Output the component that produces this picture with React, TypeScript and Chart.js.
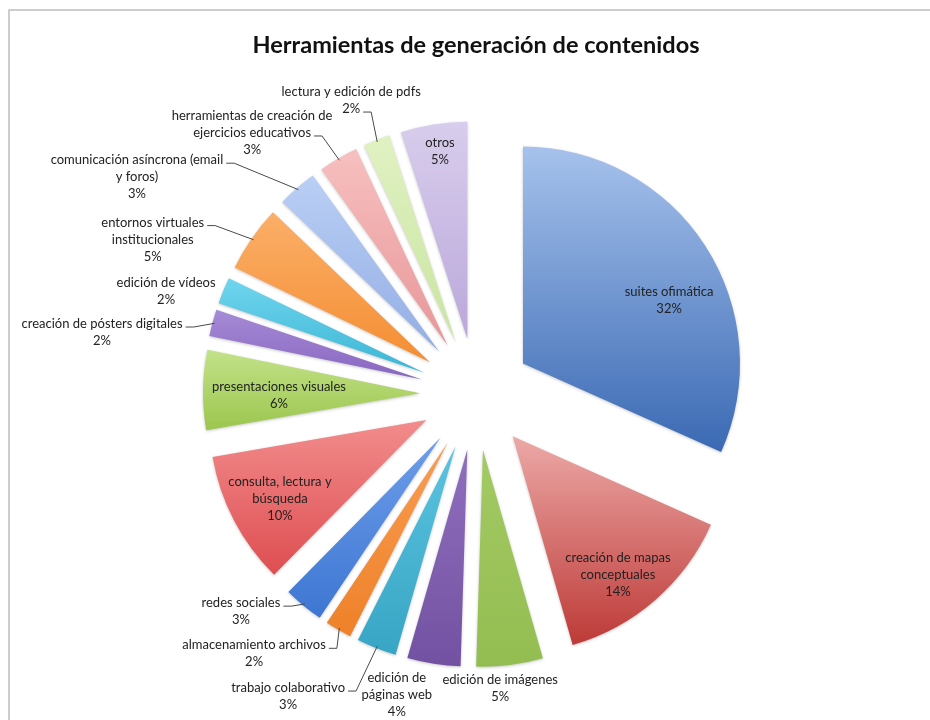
import React, { useEffect, useRef } from "react";
import { Chart, registerables } from "chart.js";

Chart.register(...registerables);

const TITLE = "Herramientas de generación de contenidos";

const CATEGORIES = [
  "suites ofimática",
  "creación de mapas\nconceptuales",
  "edición de imágenes",
  "edición de\npáginas web",
  "trabajo colaborativo",
  "almacenamiento archivos",
  "redes sociales",
  "consulta, lectura y\nbúsqueda",
  "presentaciones visuales",
  "creación de pósters digitales",
  "edición de vídeos",
  "entornos virtuales\ninstitucionales",
  "comunicación asíncrona (email\ny foros)",
  "herramientas de creación de\nejercicios educativos",
  "lectura y edición de pdfs",
  "otros",
];

const PERCENTAGES = [32, 14, 5, 4, 3, 2, 3, 10, 6, 2, 2, 5, 3, 3, 2, 5];

const COLORS_TOP = [
  "#A6C2EC", "#ECA9A7", "#A4CA64", "#8F70BD", "#5BC4E0", "#F99D52",
  "#6E9EE9", "#F28C8C", "#C3E289", "#A58BD6", "#70D5EE", "#FBAF68",
  "#BACFF4", "#F7C0C0", "#E0F1C2", "#D8CDEC",
];
const COLORS_BOTTOM = [
  "#3A69B3", "#BD3A37", "#93BD51", "#7351A2", "#37A5C4", "#EE8129",
  "#3D76D2", "#DE4E51", "#9CC64E", "#8966C0", "#3BB6D5", "#F48E33",
  "#93AEE5", "#E89698", "#C9E5A0", "#BAA8DA",
];

// label placement: angle shift from slice mid-angle (deg) and distance from slice tip (x radius)
const LABEL_LAYOUT = [
  { da: 9.7, r: 0.733 },
  { da: 3.8, r: 0.802 },
  { da: 3.0, r: 1.104 },
  { da: 7.1, r: 1.178 },
  { da: 12.4, r: 1.388, leader: 0 },
  { da: 12.2, r: 1.321, leader: 0 },
  { da: 9.7, r: 1.221, leader: 0 },
  { da: -0.5, r: 0.765 },
  { da: -1.9, r: 0.65 },
  { da: -6.8, r: 1.49, leader: 0 },
  { da: -4.8, r: 1.247 },
  { da: -10.9, r: 1.397, leader: 0 },
  { da: -19.0, r: 1.609, leader: 0 },
  { da: -12.3, r: 1.332, leader: 1 },
  { da: -2.0, r: 1.212, leader: 1 },
  { da: 0.6, r: 0.872 },
];

const RADIUS = 217;
const EXPLODE = 56;
const LABEL_FONT = "13px Lato";
const LINE_H = 17;

function sliceGradient(c: any) {
  const i = c.dataIndex;
  const chart = c.chart;
  const area = chart.chartArea;
  if (!area) return COLORS_TOP[i];
  const vals: number[] = c.dataset.data;
  const total = vals.reduce((a, b) => a + b, 0);
  let acc = 0;
  for (let j = 0; j < i; j++) acc += vals[j];
  const s = -Math.PI / 2 + (acc / total) * Math.PI * 2;
  const e = s + (vals[i] / total) * Math.PI * 2;
  const m = (s + e) / 2;
  const cy = (area.top + area.bottom) / 2 + Math.sin(m) * EXPLODE;
  let minY = cy;
  let maxY = cy;
  for (let t = 0; t <= 24; t++) {
    const a = s + ((e - s) * t) / 24;
    const yy = cy + Math.sin(a) * RADIUS;
    if (yy < minY) minY = yy;
    if (yy > maxY) maxY = yy;
  }
  const g = chart.ctx.createLinearGradient(0, minY, 0, maxY + 0.01);
  g.addColorStop(0, COLORS_TOP[i]);
  g.addColorStop(1, COLORS_BOTTOM[i]);
  return g;
}

const framePlugin = {
  id: "frame",
  beforeDraw(chart: any) {
    const ctx = chart.ctx;
    ctx.save();
    ctx.fillStyle = "#ffffff";
    ctx.fillRect(0, 0, chart.width, chart.height);
    ctx.strokeStyle = "#bdbdbd";
    ctx.lineWidth = 1.5;
    ctx.beginPath();
    ctx.moveTo(9, chart.height);
    ctx.lineTo(9, 10);
    ctx.lineTo(chart.width, 10);
    ctx.stroke();
    ctx.restore();
  },
};

const explodePlugin = {
  id: "explodeLabels",
  afterDatasetsUpdate(chart: any) {
    const meta = chart.getDatasetMeta(0);
    meta.data.forEach((el: any) => {
      const mid = (el.startAngle + el.endAngle) / 2;
      el.x += Math.cos(mid) * EXPLODE;
      el.y += Math.sin(mid) * EXPLODE;
    });
  },
  beforeDatasetsDraw(chart: any) {
    const ctx = chart.ctx;
    ctx.save();
    ctx.shadowColor = "rgba(0,0,0,0.22)";
    ctx.shadowBlur = 3;
    ctx.shadowOffsetX = 0;
    ctx.shadowOffsetY = 1;
  },
  afterDatasetsDraw(chart: any) {
    const ctx = chart.ctx;
    ctx.restore();
    const meta = chart.getDatasetMeta(0);
    const data = chart.data.datasets[0].data;
    ctx.save();
    ctx.font = LABEL_FONT;
    ctx.textAlign = "center";
    ctx.textBaseline = "middle";
    meta.data.forEach((el: any, i: number) => {
      const { x, y, startAngle, endAngle, outerRadius } = el;
      const mid = (startAngle + endAngle) / 2;
      const lay: any = LABEL_LAYOUT[i];
      const a = mid + (lay.da * Math.PI) / 180;
      const cx = x + Math.cos(a) * lay.r * outerRadius;
      const cy = y + Math.sin(a) * lay.r * outerRadius;
      const lines = [...String(chart.data.labels[i]).split("\n"), `${data[i]}%`];
      const top = cy - ((lines.length - 1) * LINE_H) / 2;
      ctx.fillStyle = "#222222";
      lines.forEach((t, k) => ctx.fillText(t, cx, top + k * LINE_H));
      if (lay.leader !== undefined) {
        const k = lay.leader;
        const ly = top + k * LINE_H + 3;
        const w = ctx.measureText(lines[k]).width;
        const sx = cx + w / 2 + 3;
        const ex = x + Math.cos(mid) * outerRadius * 0.99;
        const ey = y + Math.sin(mid) * outerRadius * 0.99;
        ctx.strokeStyle = "#4a4a4a";
        ctx.lineWidth = 1;
        ctx.beginPath();
        ctx.moveTo(sx, ly);
        ctx.lineTo(sx + 8, ly);
        ctx.lineTo(ex, ey);
        ctx.stroke();
      }
    });
    ctx.restore();
  },
};

export default function App() {
  const ref = useRef<HTMLCanvasElement>(null);
  useEffect(() => {
    if (!ref.current) return;
    const chart = new Chart(ref.current, {
      type: "pie",
      data: {
        labels: CATEGORIES,
        datasets: [
          {
            data: PERCENTAGES,
            backgroundColor: sliceGradient as any,
            borderWidth: 0,
            radius: RADIUS,
          } as any,
        ],
      },
      options: {
        responsive: false,
        animation: false,
        devicePixelRatio: 1,
        layout: { padding: { left: 22, right: 0, top: 31, bottom: 0 } },
        plugins: {
          legend: { display: false },
          tooltip: { enabled: false },
          title: {
            display: true,
            text: TITLE,
            color: "#111111",
            font: { family: "Lato", size: 23.5, weight: "bold" },
            padding: { top: 0, bottom: 9 },
          },
        },
        events: [],
      } as any,
      plugins: [framePlugin, explodePlugin],
    });
    return () => chart.destroy();
  }, []);
  return (
    <div style={{ position: "absolute", left: 0, top: 0, width: 930, height: 720, background: "#fff" }}>
      <canvas ref={ref} width={930} height={720} style={{ display: "block" }} />
    </div>
  );
}
